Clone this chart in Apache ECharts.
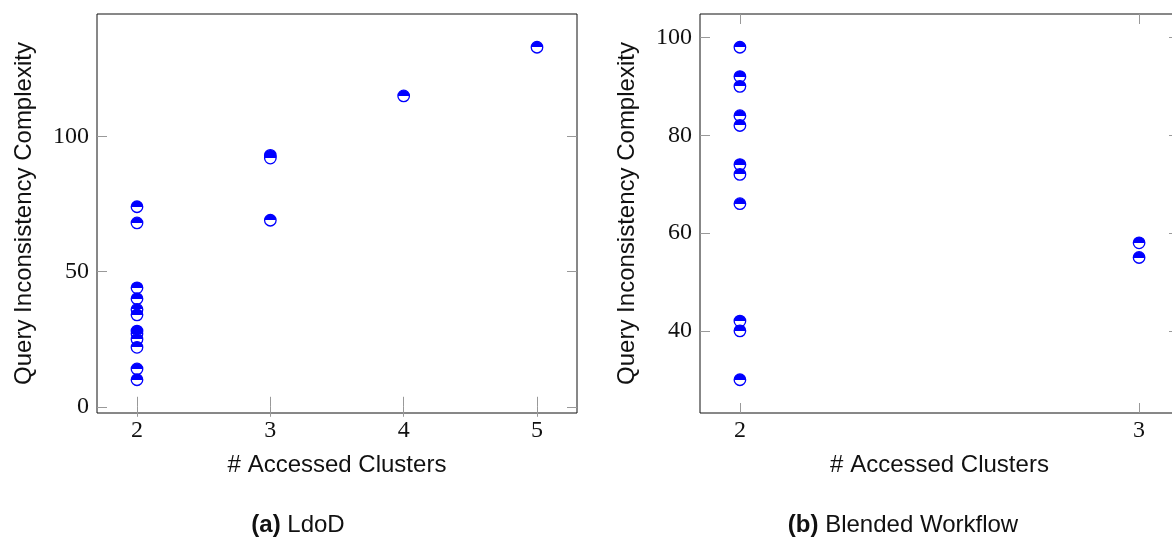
<!DOCTYPE html>
<html>
<head>
<meta charset="utf-8">
<script src="https://cdn.jsdelivr.net/npm/echarts@6/dist/echarts.min.js"></script>
<style>
  html, body { margin: 0; padding: 0; background: #fff; }
  #main { width: 1172px; height: 541px; }
</style>
</head>
<body>
<div id="main"></div>
<script>
// (a) LdoD
var ldodClusters = [2, 2, 2, 2, 2, 2, 2, 2, 2, 2, 2, 2, 3, 3, 3, 4, 5];
var ldodComplexity = [74, 68, 44, 40, 36, 34, 28, 27, 25, 22, 14, 10, 93, 92, 69, 115, 133];
var ldodXTicks = [2, 3, 4, 5];
var ldodYTicks = [0, 50, 100];

// (b) Blended Workflow
var bwClusters = [2, 2, 2, 2, 2, 2, 2, 2, 2, 2, 2, 3, 3];
var bwComplexity = [98, 92, 90, 84, 82, 74, 72, 66, 42, 40, 30, 58, 55];
var bwXTicks = [2, 3];
var bwYTicks = [40, 60, 80, 100];

var xTitle = '# Accessed Clusters';
var yTitle = 'Query Inconsistency Complexity';
var captions = ['{b|(a)} LdoD', '{b|(b)} Blended Workflow'];

var myChart = echarts.init(document.getElementById('main'));

// half filled marker: top half blue, bottom half white
var markerFill = new echarts.graphic.LinearGradient(0, 0, 0, 1, [
    { offset: 0, color: '#0000ff' },
    { offset: 0.5, color: '#0000ff' },
    { offset: 0.5, color: '#ffffff' },
    { offset: 1, color: '#ffffff' }
]);

function pairs(xs, ys) {
    var out = [];
    for (var i = 0; i < xs.length; i++) {
        out.push([xs[i], ys[i]]);
    }
    return out;
}

function limits(values) {
    // pgfplots style: enlarge limits by 10% of the range
    var lo = Math.min.apply(null, values);
    var hi = Math.max.apply(null, values);
    var pad = (hi - lo) * 0.1;
    return [lo - pad, hi + pad];
}

var tickStyle = { inside: true, length: 10, lineStyle: { color: '#999', width: 1 } };
var serifLabel = { fontFamily: 'Liberation Serif', fontSize: 24, color: '#111' };
var sansName = { fontFamily: 'Liberation Sans', fontSize: 24, color: '#111' };

function xAxes(gridIndex, xs, ticks) {
    var lim = limits(xs);
    var base = {
        type: 'value', gridIndex: gridIndex, min: lim[0], max: lim[1],
        axisLine: { show: false }, splitLine: { show: false },
        axisTick: Object.assign({ customValues: ticks }, tickStyle)
    };
    return [
        Object.assign({}, base, {
            position: 'bottom',
            name: xTitle, nameLocation: 'middle', nameGap: 40, nameTextStyle: sansName,
            axisLabel: Object.assign({ customValues: ticks, margin: 6 }, serifLabel)
        }),
        Object.assign({}, base, { position: 'top', axisLabel: { show: false } })
    ];
}

function yAxes(gridIndex, ys, ticks) {
    var lim = limits(ys);
    var base = {
        type: 'value', gridIndex: gridIndex, min: lim[0], max: lim[1],
        axisLine: { show: false }, splitLine: { show: false },
        axisTick: Object.assign({ customValues: ticks }, tickStyle)
    };
    return [
        Object.assign({}, base, {
            position: 'left',
            name: yTitle, nameLocation: 'middle', nameGap: 61, nameTextStyle: sansName,
            axisLabel: Object.assign({ customValues: ticks, margin: 8 }, serifLabel)
        }),
        Object.assign({}, base, { position: 'right', axisLabel: { show: false } })
    ];
}

function scatter(xIndex, yIndex, xs, ys) {
    return {
        type: 'scatter',
        xAxisIndex: xIndex,
        yAxisIndex: yIndex,
        symbol: 'circle',
        symbolSize: 11.5,
        itemStyle: { color: markerFill, borderColor: '#0000ff', borderWidth: 1.3, opacity: 1 },
        emphasis: { disabled: true },
        data: pairs(xs, ys)
    };
}

var gridStyle = {
    show: true, borderColor: '#111', borderWidth: 1, backgroundColor: 'transparent',
    containLabel: false, outerBoundsMode: 'none'
};

var option = {
    animation: false,
    grid: [
        Object.assign({ left: 97, top: 14, width: 480, height: 399 }, gridStyle),
        Object.assign({ left: 700, top: 14, width: 479, height: 399 }, gridStyle)
    ],
    xAxis: xAxes(0, ldodClusters, ldodXTicks).concat(xAxes(1, bwClusters, bwXTicks)),
    yAxis: yAxes(0, ldodComplexity, ldodYTicks).concat(yAxes(1, bwComplexity, bwYTicks)),
    title: [
        { text: captions[0], left: 293, top: 508, textAlign: 'center' },
        { text: captions[1], left: 898, top: 508, textAlign: 'center' }
    ].map(function (t) {
        t.textStyle = {
            fontFamily: 'Liberation Sans', fontSize: 24, fontWeight: 'normal', color: '#111',
            rich: { b: { fontFamily: 'Liberation Sans', fontSize: 24, fontWeight: 'bold', color: '#111' } }
        };
        return t;
    }),
    series: [
        scatter(0, 0, ldodClusters, ldodComplexity),
        scatter(2, 2, bwClusters, bwComplexity)
    ]
};

myChart.setOption(option);
</script>
</body>
</html>
